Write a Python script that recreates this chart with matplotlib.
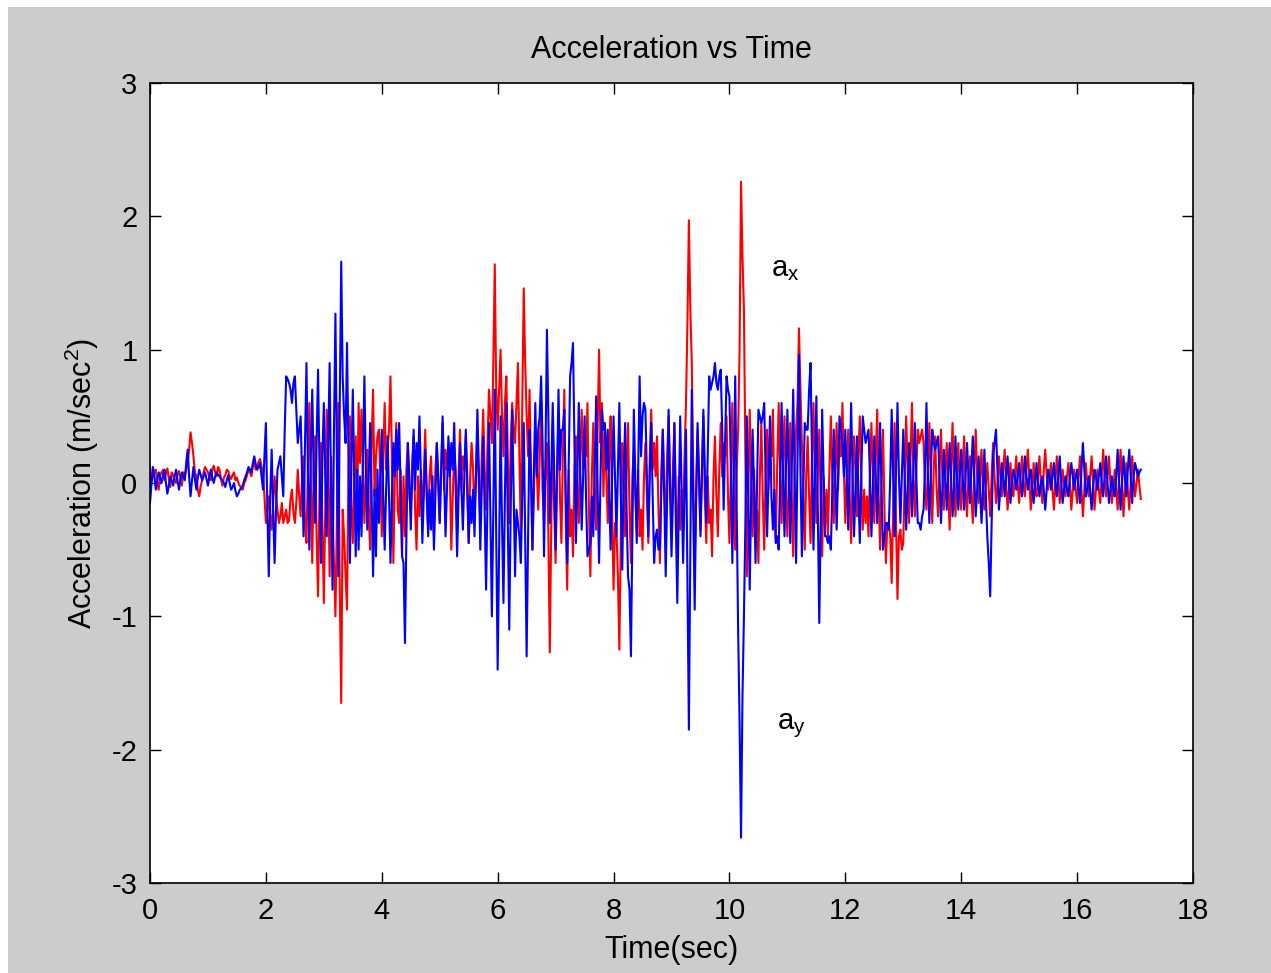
import numpy as np
import matplotlib
matplotlib.use('Agg')
import matplotlib.pyplot as plt
from matplotlib.patches import Rectangle

# sampling step of the hand-read traces (sec); *_mid values sit halfway between samples
dt = 0.05

# a_x (red), one row per second
ax_vals = [
    0.12, 0.05, 0.10, -0.05, 0.08, 0.02, 0.11, -0.03, 0.06, 0.00, 0.09, -0.02, 0.05, 0.14, 0.38, 0.20, 0.05, -0.10, 0.02, 0.12,
    0.08, 0.02, 0.13, 0.05, 0.10, -0.02, 0.06, 0.09, 0.03, 0.08, 0.04, -0.02, -0.05, 0.02, 0.10, 0.05, 0.15, 0.12, 0.18, 0.10,
    -0.30, -0.10, -0.35, 0.05, -0.20, -0.25, -0.30, -0.20, -0.28, -0.05, -0.30, 0.10, -0.25, 0.20, -0.45, 0.60, -0.60, 0.35, -0.85, 0.30,
    -0.90, 0.55, -0.70, -0.20, -1.00, 0.60, -1.65, -0.40, -0.95, 0.50, -0.45, 0.35, 0.60, 0.55, -0.30, 0.25, -0.50, 0.70, 0.20, 0.40,
    -0.40, 0.60, 0.25, 0.80, -0.60, 0.45, -0.30, -0.55, -0.40, 0.30, -0.20, 0.35, -0.50, -0.25, -0.30, 0.40, -0.35, 0.20, -0.40, 0.30,
    -0.30, 0.45, 0.25, 0.30, -0.50, 0.25, -0.35, 0.40, 0.20, 0.35, -0.45, 0.30, -0.25, 0.40, -0.30, 0.55, -0.20, 0.70, 0.30, 1.64,
    0.40, 1.00, 0.20, 0.80, -0.30, 0.60, 0.30, 0.90, -0.40, 1.46, 0.50, 0.70, -0.50, 0.40, -0.20, 0.60, -0.30, 0.30, -1.27, 0.45,
    -0.60, 0.50, -0.45, 0.70, -0.80, -0.40, -0.55, 0.35, -0.30, 0.55, 0.40, 0.60, -0.70, 0.45, -0.35, 1.00, 0.60, 0.40, -0.30, 0.50,
    -0.80, -0.35, -1.25, 0.30, -0.40, 0.45, -0.60, 0.25, -0.35, -0.40, -0.50, 0.30, -0.45, 0.55, 0.30, 0.35, -0.60, 0.40, -0.25, 0.50,
    -0.40, 0.45, -0.55, -0.35, -0.30, 0.60, 1.97, 0.90, -0.60, 0.40, -0.35, 0.50, -0.45, -0.30, -0.55, 0.35, -0.40, 0.45, 0.30, 0.50,
    -0.45, 0.60, -0.50, 0.40, 2.26, 1.30, -0.70, 0.55, -0.40, -0.35, -0.60, 0.45, -0.50, 0.40, 0.35, 0.55, -0.45, 0.60, -0.30, 0.50,
    -0.40, 0.45, -0.55, 0.40, 1.16, 0.30, -0.50, 0.35, -0.45, 0.60, -0.30, 0.40, -0.55, -0.35, -0.40, 0.50, -0.30, 0.45, 0.35, 0.60,
    -0.30, 0.40, -0.45, 0.35, -0.25, 0.50, -0.35, -0.30, -0.40, 0.45, -0.30, 0.55, -0.50, 0.40, -0.60, -0.30, -0.75, 0.45, -0.87, -0.35,
    -0.45, 0.50, -0.30, 0.60, -0.25, 0.40, 0.35, 0.30, -0.20, 0.45, -0.30, 0.35, -0.25, 0.40, -0.20, 0.30, -0.35, 0.45, -0.25, 0.30,
    -0.20, 0.35, -0.25, 0.20, -0.30, 0.40, -0.15, 0.25, -0.20, 0.15, -0.25, 0.30, -0.15, 0.20, -0.10, 0.25, -0.20, 0.15, -0.10, 0.20,
    -0.15, 0.20, -0.10, 0.25, -0.20, 0.15, -0.10, 0.20, -0.15, 0.25, -0.05, 0.15, -0.20, 0.20, -0.15, 0.10, -0.10, 0.15, -0.20, 0.10,
    -0.15, 0.20, -0.25, 0.15, -0.10, 0.20, -0.20, 0.10, -0.15, 0.25, -0.10, 0.20, -0.15, 0.10, -0.20, 0.25, -0.25, 0.15, -0.20, 0.20,
    -0.10, 0.10, -0.12,
]
ax_mid = [
    0.02, 0.09, 0.00, 0.06, 0.10, 0.07, 0.03, 0.08, 0.02, 0.06, 0.04, 0.08, 0.10, 0.25, 0.30, 0.08, -0.05, -0.02, 0.08, 0.10,
    0.04, 0.10, 0.08, 0.12, 0.03, 0.04, 0.10, 0.05, 0.06, 0.02, 0.00, -0.04, 0.00, 0.06, 0.08, 0.12, 0.10, 0.16, 0.12, -0.10,
    -0.20, -0.25, -0.15, -0.10, -0.30, -0.15, -0.25, -0.30, -0.12, -0.22, -0.15, -0.10, 0.05, -0.30, 0.10, 0.05, 0.10, -0.40, -0.10, -0.30,
    -0.20, 0.10, 0.20, -0.60, -0.30, -0.80, -0.20, -0.70, 0.10, -0.20, 0.05, -0.30, 0.15, 0.10, 0.05, -0.25, 0.30, -0.10, 0.35, 0.05,
    0.20, 0.10, 0.40, 0.20, 0.05, -0.20, 0.10, 0.05, 0.10, -0.10, 0.15, -0.20, 0.05, 0.10, 0.05, -0.10, 0.05, -0.15, 0.10, -0.05,
    0.10, -0.05, 0.10, 0.05, -0.10, 0.10, 0.05, -0.05, 0.10, -0.10, 0.05, 0.10, 0.05, -0.05, 0.20, 0.10, 0.30, 0.50, 0.90, 0.70,
    0.70, 0.50, 0.60, 0.20, 0.30, 0.40, 0.60, 0.20, 0.60, 0.90, 0.20, 0.10, -0.10, 0.10, 0.20, -0.05, 0.10, -0.40, -0.30, -0.20,
    0.10, -0.10, 0.20, -0.30, 0.10, -0.20, 0.10, -0.05, 0.20, 0.10, 0.20, -0.20, 0.05, -0.10, 0.40, 0.30, -0.10, 0.05, 0.20, -0.20,
    -0.30, -0.70, -0.40, 0.05, 0.10, -0.20, 0.05, -0.10, 0.10, -0.20, 0.05, -0.10, 0.20, 0.10, 0.05, -0.20, 0.10, -0.05, 0.20, 0.05,
    0.10, -0.10, 0.05, -0.05, 0.20, 1.20, 1.30, 0.10, -0.10, 0.05, 0.10, -0.10, 0.05, -0.20, 0.05, -0.10, 0.10, 0.05, 0.20, -0.10,
    0.10, -0.05, 0.10, 1.00, 1.70, 0.20, -0.10, 0.05, 0.10, -0.20, 0.05, -0.10, 0.10, -0.05, 0.20, -0.10, 0.15, 0.05, 0.20, -0.10,
    0.05, -0.10, 0.10, 0.60, 0.70, -0.10, 0.05, -0.10, 0.20, 0.05, 0.10, -0.15, 0.05, -0.05, 0.10, 0.05, 0.10, -0.05, 0.20, 0.10,
    0.05, -0.10, 0.05, 0.10, 0.20, 0.05, -0.05, -0.10, 0.10, 0.05, 0.20, -0.10, 0.05, -0.20, -0.30, -0.40, -0.20, -0.30, -0.40, -0.50,
    0.05, 0.10, 0.20, 0.05, 0.10, 0.30, 0.40, -0.05, 0.10, 0.05, 0.10, -0.05, 0.10, 0.05, 0.10, -0.05, 0.10, 0.05, 0.05, -0.05,
    0.10, -0.05, 0.05, -0.10, 0.10, 0.05, 0.05, -0.05, 0.00, -0.05, 0.05, 0.05, 0.00, 0.05, 0.10, 0.00, -0.05, -0.05, 0.05, 0.00,
    0.05, 0.00, 0.10, 0.05, -0.05, -0.05, 0.05, 0.00, 0.10, 0.05, 0.05, -0.05, 0.00, 0.05, -0.05, 0.00, 0.05, 0.00, -0.05, -0.05,
    0.05, -0.05, -0.05, 0.00, 0.05, 0.00, -0.05, -0.05, 0.05, 0.05, 0.05, 0.00, -0.05, -0.05, 0.05, 0.00, -0.05, -0.05, 0.00, 0.05,
    0.00, -0.02,
]

# a_y (blue)
ay_vals = [
    -0.15, 0.12, -0.05, 0.08, 0.00, 0.10, -0.08, 0.05, -0.02, 0.10, -0.05, 0.08, 0.02, 0.25, -0.10, 0.12, -0.05, 0.10, 0.02, 0.08,
    -0.02, 0.10, 0.00, 0.08, 0.05, 0.02, -0.03, 0.06, -0.05, 0.00, -0.10, -0.05, -0.02, 0.05, 0.12, 0.08, 0.20, 0.10, 0.15, -0.05,
    0.45, -0.70, 0.25, -0.60, 0.10, 0.20, -0.10, 0.80, 0.75, 0.60, 0.80, 0.30, 0.50, -0.40, 0.90, -0.50, 0.70, -0.30, 0.85, -0.60,
    0.60, -0.40, 0.90, -0.80, 1.27, -0.70, 1.66, 0.50, 1.05, -0.60, 0.70, -0.55, -0.50, -0.40, 0.80, -0.35, 0.45, -0.70, -0.55, -0.30,
    0.40, -0.50, 0.35, -0.60, 0.30, 0.40, 0.45, -0.55, -1.20, 0.30, -0.35, 0.40, 0.30, 0.50, -0.45, 0.25, -0.40, -0.35, -0.50, 0.30,
    -0.30, 0.50, -0.40, 0.35, 0.30, 0.45, -0.55, 0.30, -0.35, 0.40, -0.45, -0.30, -0.40, 0.55, -0.50, 0.35, -0.80, 0.45, -1.00, 0.70,
    -1.40, 0.50, -0.90, 0.60, -1.10, 0.55, -0.70, -0.30, -0.60, 0.45, -1.30, 0.40, -0.50, 0.60, 0.40, 0.80, -0.55, 1.15, -0.30, 0.60,
    -0.50, 0.70, 0.40, 0.55, -0.60, 0.80, 1.05, -0.45, 0.60, -0.35, 0.50, -0.55, -0.45, -0.40, 0.65, -0.60, 0.55, 0.45, 0.40, -0.50,
    0.50, -0.40, 0.60, -0.65, 0.45, -0.70, -1.30, 0.55, -0.45, 0.80, 0.50, 0.55, -0.40, 0.45, -0.60, -0.35, -0.50, 0.40, -0.70, 0.55,
    -0.55, 0.45, -0.90, 0.50, -0.60, 0.40, -1.85, 0.70, -0.95, 0.45, -0.40, 0.55, -0.30, 0.80, 0.75, 0.90, 0.70, 0.85, -0.20, 0.80,
    0.65, -0.60, 0.80, -1.10, -2.66, -1.00, 0.50, -0.80, 0.40, -0.60, 0.55, 0.45, 0.60, -0.40, 0.50, -0.35, -0.45, -0.50, 0.60, -0.40,
    0.55, -0.45, 0.70, -0.60, 0.96, -0.55, 0.45, 0.40, 0.90, -0.50, 0.65, -1.05, 0.55, -0.40, -0.45, -0.50, 0.40, -0.35, 0.50, 0.30,
    0.40, -0.35, 0.60, -0.40, 0.35, -0.45, 0.50, 0.30, 0.40, -0.40, 0.35, -0.30, 0.45, -0.50, -0.30, -0.35, 0.55, -0.40, 0.60, -0.30,
    0.40, -0.35, 0.30, -0.25, 0.45, -0.30, -0.35, -0.20, 0.60, -0.30, 0.40, 0.25, 0.35, -0.30, 0.25, -0.20, 0.30, -0.25, 0.35, -0.20,
    0.25, -0.20, 0.30, -0.15, 0.35, -0.25, 0.20, -0.30, 0.25, -0.40, -0.85, 0.20, 0.40, -0.20, 0.15, -0.10, 0.20, -0.15, 0.10, -0.05,
    0.15, -0.10, 0.20, -0.05, 0.10, -0.15, 0.15, -0.10, 0.05, -0.20, 0.10, -0.05, 0.15, -0.10, 0.20, -0.15, 0.05, -0.10, 0.15, -0.05,
    0.10, -0.15, 0.30, -0.10, 0.05, -0.20, 0.10, -0.05, 0.15, -0.10, 0.20, -0.15, 0.05, -0.10, 0.25, -0.20, 0.20, -0.10, 0.25, -0.15,
    0.15, 0.05, 0.10,
]
ay_mid = [
    -0.02, 0.05, 0.02, 0.04, 0.06, 0.00, -0.02, 0.02, 0.05, 0.02, 0.03, 0.05, 0.15, 0.05, 0.02, 0.03, 0.04, 0.06, 0.05, 0.03,
    0.05, 0.04, 0.05, 0.06, 0.03, 0.00, 0.02, 0.00, -0.03, -0.06, -0.08, -0.04, 0.02, 0.08, 0.10, 0.15, 0.14, 0.12, 0.05, 0.20,
    -0.20, -0.10, -0.20, -0.20, 0.15, 0.05, 0.40, 0.78, 0.70, 0.75, 0.55, 0.40, 0.05, 0.30, 0.10, 0.20, 0.05, 0.30, 0.10, 0.20,
    0.05, 0.30, -0.10, 0.40, 0.20, 0.60, 0.80, 0.30, 0.20, 0.10, 0.05, 0.10, 0.05, 0.20, 0.10, 0.05, -0.10, -0.05, 0.10, 0.05,
    -0.10, -0.05, -0.10, -0.10, 0.05, 0.10, -0.05, -0.60, -0.40, 0.05, 0.05, -0.05, 0.10, 0.05, -0.10, -0.05, -0.05, 0.05, -0.10, 0.05,
    0.10, 0.05, -0.05, 0.05, 0.10, -0.05, -0.10, -0.05, 0.05, 0.05, -0.10, -0.05, 0.05, 0.10, -0.05, -0.20, -0.10, -0.30, -0.20, -0.40,
    -0.50, -0.30, -0.10, -0.30, -0.20, -0.05, -0.20, -0.40, -0.10, -0.40, -0.40, 0.05, 0.10, 0.05, 0.50, 0.30, 0.20, 0.50, 0.05, 0.10,
    0.05, 0.10, 0.40, -0.10, 0.10, 0.90, 0.30, 0.05, 0.10, 0.05, -0.10, -0.50, -0.10, 0.10, -0.05, 0.05, 0.40, 0.10, -0.10, 0.05,
    0.05, 0.10, -0.10, 0.05, -0.20, -0.80, -0.40, 0.05, 0.10, 0.20, 0.60, 0.05, 0.05, -0.10, -0.40, -0.50, -0.05, -0.10, -0.10, -0.05,
    -0.10, -0.30, -0.20, -0.05, -0.10, -0.70, -0.50, -0.20, -0.10, 0.05, 0.05, 0.10, 0.20, 0.70, 0.80, 0.75, 0.80, 0.40, 0.30, 0.70,
    0.10, 0.05, -0.20, -1.80, -1.60, -0.30, -0.10, -0.10, -0.05, -0.05, 0.50, 0.50, 0.05, 0.05, -0.10, -0.05, -0.40, 0.05, 0.05, 0.10,
    0.05, 0.10, 0.05, 0.20, 0.10, -0.05, 0.40, 0.70, 0.20, 0.05, -0.20, -0.30, 0.05, -0.40, -0.40, -0.05, 0.05, 0.05, 0.40, 0.05,
    0.05, 0.10, 0.05, -0.05, -0.05, 0.05, 0.40, 0.35, 0.05, -0.05, 0.05, 0.10, -0.05, -0.40, -0.30, 0.05, 0.05, 0.10, 0.05, 0.05,
    0.05, -0.05, 0.05, 0.10, 0.05, -0.30, -0.25, 0.10, 0.05, 0.05, 0.30, 0.30, 0.05, -0.05, 0.05, 0.05, 0.05, -0.05, 0.05, 0.05,
    0.05, 0.05, 0.05, 0.10, 0.05, -0.05, -0.05, -0.05, -0.10, -0.60, -0.30, 0.30, 0.10, -0.05, 0.05, 0.05, 0.00, 0.00, 0.05, 0.05,
    0.00, 0.05, 0.05, 0.05, -0.05, 0.00, 0.00, 0.00, -0.05, -0.05, 0.05, 0.05, 0.00, 0.05, 0.00, -0.05, -0.05, 0.05, 0.05, 0.05,
    -0.05, 0.10, 0.10, -0.05, -0.05, -0.05, 0.05, 0.05, 0.00, 0.05, 0.00, -0.05, -0.05, 0.05, 0.00, 0.00, 0.05, 0.10, 0.05, 0.05,
    0.10, 0.08,
]

x_ticks = [0, 2, 4, 6, 8, 10, 12, 14, 16, 18]
y_ticks = [-3, -2, -1, 0, 1, 2, 3]


def interleave(vals, mids):
    out = np.empty(len(vals) + len(mids))
    out[0::2] = vals
    out[1::2] = mids
    return out


acc_x = interleave(ax_vals, ax_mid)
acc_y = interleave(ay_vals, ay_mid)
t_x = np.arange(len(acc_x)) * dt / 2
t_y = np.arange(len(acc_y)) * dt / 2

plt.rcParams['font.family'] = ['Liberation Sans', 'DejaVu Sans']
plt.rcParams['mathtext.fontset'] = 'custom'
plt.rcParams['mathtext.rm'] = 'Liberation Sans'
plt.rcParams['axes.unicode_minus'] = False

fig = plt.figure(figsize=(12.71, 9.73), dpi=100, facecolor='white')
# grey panel (thin white strip left and top as in the screenshot)
fig.patches.append(Rectangle((8/1271, 0), 1, 966/973, transform=fig.transFigure,
                             facecolor='#cccccc', edgecolor='none', zorder=-10))

ax = fig.add_axes([150/1271, 1 - 883/973, (1193-150)/1271, (883-83)/973])
ax.plot(t_x, acc_x, color='red', lw=1.5)
ax.plot(t_y, acc_y, color='blue', lw=1.5)

ax.set_xlim(0, 18)
ax.set_ylim(-3, 3)
ax.set_xticks(x_ticks)
ax.set_yticks(y_ticks)
ax.tick_params(direction='in', top=True, right=True, length=8, width=1, labelsize=21)
ax.tick_params(axis='x', pad=10)
ax.tick_params(axis='y', pad=9)
for s in ax.spines.values():
    s.set_linewidth(1.2)

ax.text(10.72, 1.55, r'$\mathregular{a_x}$', fontsize=21)
ax.text(10.82, -1.85, r'$\mathregular{a_y}$', fontsize=21)

ax.set_title('Acceleration vs Time', fontsize=22, pad=18)
ax.set_xlabel('Time(sec)', fontsize=22, labelpad=7)
ax.set_ylabel(r'Acceleration (m/sec$^{2}$)', fontsize=22, labelpad=8)

plt.savefig('out.png', dpi=100, facecolor=fig.get_facecolor())
